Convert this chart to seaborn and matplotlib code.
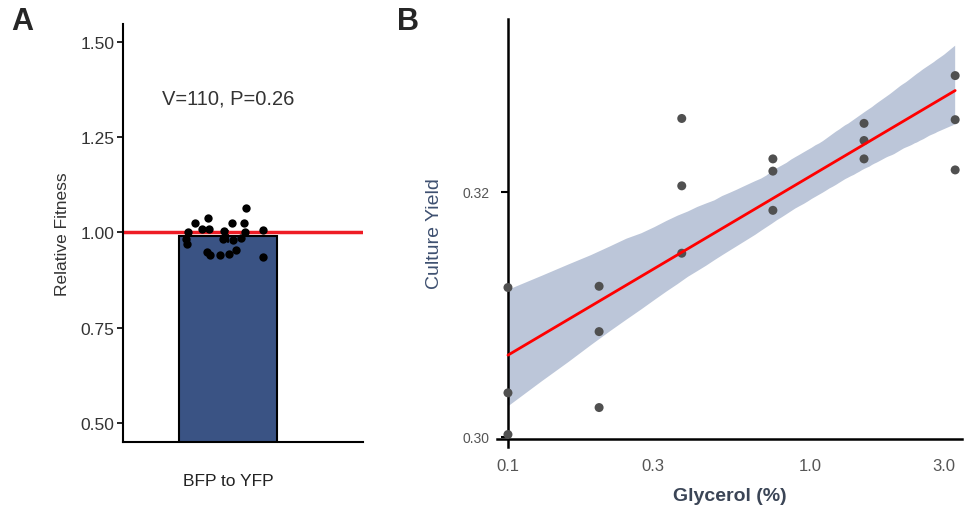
import numpy as np
import pandas as pd
import matplotlib
matplotlib.use("Agg")
import matplotlib.pyplot as plt
import seaborn as sns
from matplotlib.ticker import FixedLocator, FixedFormatter, NullLocator

sns.set_theme(style="white")
plt.rcParams['font.family'] = ['Liberation Sans', 'DejaVu Sans']

# ---- Panel A data ----
fitness_category = ["BFP to YFP"]
fitness_values = [1.025, 1.063, 0.941, 0.944, 0.936, 1.006, 1.024, 1.008, 1.002, 0.983, 0.969,
                  1.003, 0.985, 1.037, 1.024, 0.955, 0.983, 0.980, 0.948, 0.940, 1.010, 1.000]
stat_text = "V=110, P=0.26"
a_yticks = [0.50, 0.75, 1.00, 1.25, 1.50]

# ---- Panel B data ----
glycerol = [0.1, 0.1, 0.1, 0.2, 0.2, 0.2, 0.375, 0.375, 0.375,
            0.75, 0.75, 0.75, 1.5, 1.5, 1.5, 3.0, 3.0, 3.0]
yield_vals = [0.3122, 0.3036, 0.3002, 0.3123, 0.3086, 0.3024, 0.3260, 0.3205, 0.3150,
              0.3227, 0.3217, 0.3185, 0.3256, 0.3242, 0.3227, 0.3295, 0.3259, 0.3218]
b_xticks = [0.1, 0.3, 1.0, 3.0]
b_xticklabels = ["0.1", "0.3", "1.0", "3.0"]
b_yticks = [0.30, 0.32]

W, H = 964, 510
fig = plt.figure(figsize=(W / 100, H / 100), dpi=100)

# ---------------- Panel A ----------------
axA = fig.add_axes([123 / W, 1 - 443 / H, (363 - 123) / W, (443 - 25) / H])
dfA = pd.DataFrame({"cond": fitness_category * len(fitness_values), "fit": fitness_values})
sns.barplot(data=dfA, x="cond", y="fit", ax=axA, color="#3a5384", saturation=1,
            width=0.6, edgecolor="black", linewidth=1.5, errorbar=("ci", 95),
            err_kws={"color": "black", "linewidth": 1.5}, zorder=1)
np.random.seed(3)
sns.stripplot(data=dfA, x="cond", y="fit", ax=axA, color="black", size=6, jitter=0.27, zorder=3)
axA.axhline(1.0, color="#ee1c25", linewidth=2.5, zorder=2)
axA.set_xlim(-0.643, 0.827)
axA.set_ylim(0.45, 1.547)
axA.set_yticks(a_yticks)
axA.set_yticklabels([f"{v:.2f}" for v in a_yticks])
axA.text(0, 1.354, stat_text, ha="center", va="center", fontsize=14.5, color="#333333")
axA.set_xlabel("")
axA.set_ylabel("Relative Fitness", fontsize=12.5, color="#333333", labelpad=8)
for s in ["top", "right"]:
    axA.spines[s].set_visible(False)
for s in ["left", "bottom"]:
    axA.spines[s].set_color("black")
    axA.spines[s].set_linewidth(1.5)
axA.tick_params(axis="y", length=4, width=1.2, color="black", labelsize=12.5, labelcolor="#333333", pad=2, left=True)
axA.tick_params(axis="x", length=0, labelsize=12.5, labelcolor="#222222", pad=22)
fig.text(22 / W, 1 - 22 / H, "A", fontsize=22, fontweight="bold", ha="center", va="center")

# ---------------- Panel B ----------------
axB = fig.add_axes([497 / W, 1 - 448 / H, (962 - 497) / W, (448 - 20) / H])
dfB = pd.DataFrame({"glycerol": glycerol, "yield": yield_vals})
sns.regplot(data=dfB, x="glycerol", y="yield", ax=axB, logx=True, ci=95, n_boot=1000, seed=1,
            scatter=False, color="#bcc6d9", line_kws={"linewidth": 2})
axB.set_xscale("log")
# style the fit line and band
for ln in axB.lines:
    ln.set_color("#ff0000")
    ln.set_zorder(4)
for coll in axB.collections:
    coll.set_facecolor("#bcc6d9")
    coll.set_alpha(1)
    coll.set_edgecolor("none")
    coll.set_zorder(1)
sns.scatterplot(data=dfB, x="glycerol", y="yield", ax=axB, color="#505050", s=42,
                edgecolor="none", zorder=3)
axB.set_xlim(0.092, 3.16)
axB.set_ylim(0.29918, 0.33412)
axB.spines["left"].set_position(("data", 0.1))
axB.spines["bottom"].set_position(("data", 0.29984))
for s in ["top", "right"]:
    axB.spines[s].set_visible(False)
for s in ["left", "bottom"]:
    axB.spines[s].set_color("black")
    axB.spines[s].set_linewidth(1.8)
axB.xaxis.set_major_locator(FixedLocator(b_xticks))
axB.xaxis.set_major_formatter(FixedFormatter(b_xticklabels))
axB.xaxis.set_minor_locator(NullLocator())
axB.set_yticks(b_yticks)
axB.set_yticklabels([f"{v:.2f}" for v in b_yticks])
axB.tick_params(axis="x", length=0, labelsize=12, labelcolor="#555555", pad=14, bottom=True)
axB.tick_params(axis="y", length=5, width=1.5, color="black", labelsize=10, labelcolor="#555555", pad=8, left=True)
for lbl in axB.get_xticklabels():
    if lbl.get_text() == "3.0":
        lbl.set_horizontalalignment("right")
        lbl.set_x(3.0)
axB.set_xlabel("Glycerol (%)", fontsize=14, fontweight="bold", color="#3b4556", labelpad=10)
axB.set_ylabel("Culture Yield", fontsize=14, color="#3e5070", labelpad=14)
fig.text(408 / W, 1 - 22 / H, "B", fontsize=22, fontweight="bold", ha="center", va="center")

fig.savefig("out.png", dpi=100)
